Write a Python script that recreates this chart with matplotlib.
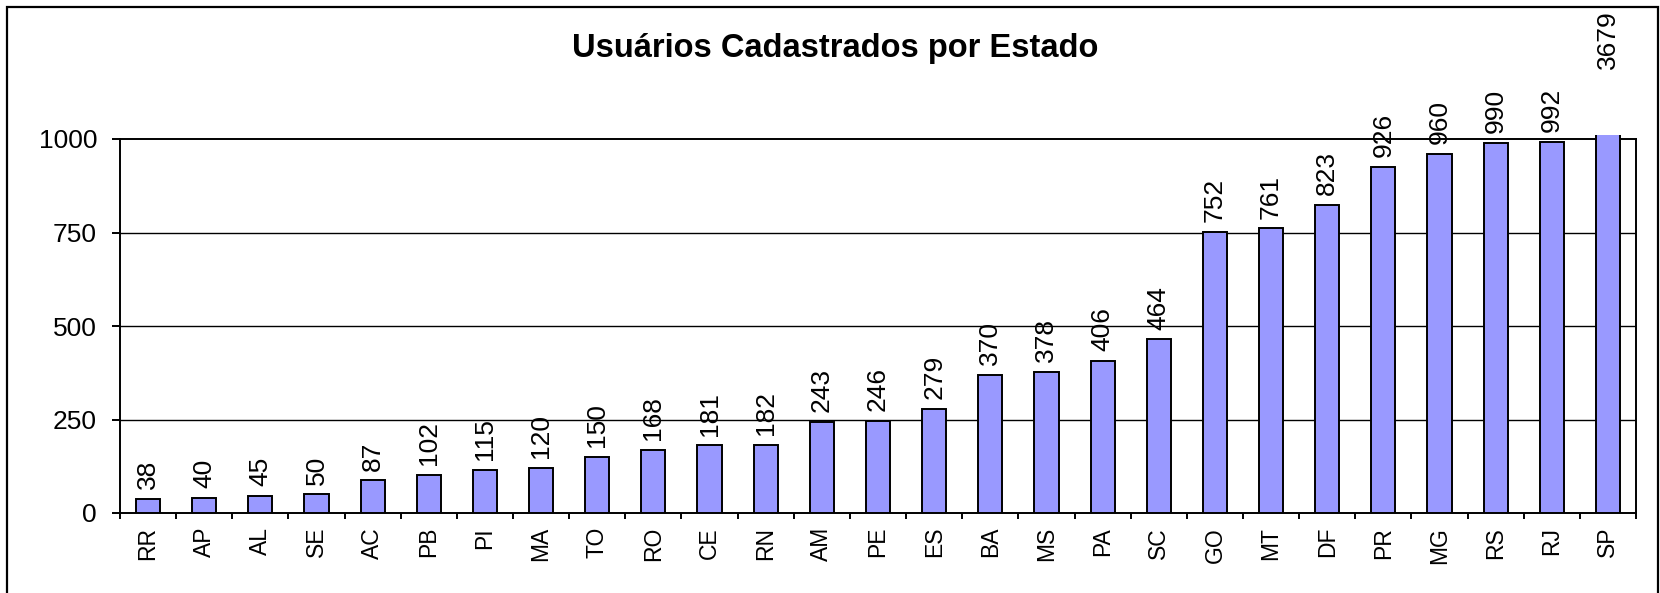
import matplotlib.pyplot as plt
from matplotlib.patches import Rectangle

estados = ["RR", "AP", "AL", "SE", "AC", "PB", "PI", "MA", "TO", "RO", "CE", "RN", "AM", "PE",
           "ES", "BA", "MS", "PA", "SC", "GO", "MT", "DF", "PR", "MG", "RS", "RJ", "SP"]
usuarios = [38, 40, 45, 50, 87, 102, 115, 120, 150, 168, 181, 182, 243, 246,
            279, 370, 378, 406, 464, 752, 761, 823, 926, 960, 990, 992, 3679]
yticks = [0, 250, 500, 750, 1000]

plt.rcParams["font.family"] = ["Liberation Sans", "DejaVu Sans"]

fig = plt.figure(figsize=(16.6, 5.93), dpi=100)
ax = fig.add_axes([120 / 1660, 80 / 593, 1516 / 1660, 374 / 593])

x = list(range(len(estados)))
bars = ax.bar(x, usuarios, width=0.43, color="#9999FF", edgecolor="black", linewidth=1.4, zorder=3)

# barras acima de 1000 ficam cortadas um pouco acima do topo
clip = Rectangle((0, 0), 1, 1.011, transform=ax.transAxes, facecolor="none", edgecolor="none")
ax.add_patch(clip)
for b in bars:
    b.set_clip_path(clip)

ymax = 1000
for xi, v in zip(x, usuarios):
    # rótulo da barra cortada fica no alto, fora da área do gráfico
    top = v if v <= ymax else 1160
    ax.annotate(str(v), (xi, top), xytext=(0, 7), textcoords="offset points",
                rotation=90, ha="center", va="bottom", fontsize=19, annotation_clip=False)

ax.set_xlim(-0.5, len(estados) - 0.5)
ax.set_ylim(0, ymax)
ax.set_yticks(yticks)
ax.set_yticklabels([str(t) for t in yticks], fontsize=19)
ax.set_xticks(x)
ax.set_xticklabels(estados, rotation=90, fontsize=16.5)
ax.tick_params(axis="x", length=0, pad=10)
ax.set_xticks([i - 0.5 for i in range(len(estados) + 1)], minor=True)
ax.tick_params(axis="x", which="minor", length=4.5, width=1.4, direction="out")
ax.tick_params(axis="y", length=5.5, width=1.4, direction="out", pad=11)

for t in yticks[1:-1]:
    ax.axhline(t, color="black", linewidth=1.0, zorder=1)

for s in ax.spines.values():
    s.set_linewidth(1.4)
    s.set_color("black")

fig.text(0.503, 1 - 49 / 593, "Usuários Cadastrados por Estado", ha="center", va="center",
         fontsize=23.5, fontweight="bold")

fig.patches.append(Rectangle((7 / 1660, -0.02), 1651 / 1660, 1.02 - 7 / 593,
                             transform=fig.transFigure, fill=False, edgecolor="black",
                             linewidth=1.6))

fig.savefig("out.png", dpi=100)
